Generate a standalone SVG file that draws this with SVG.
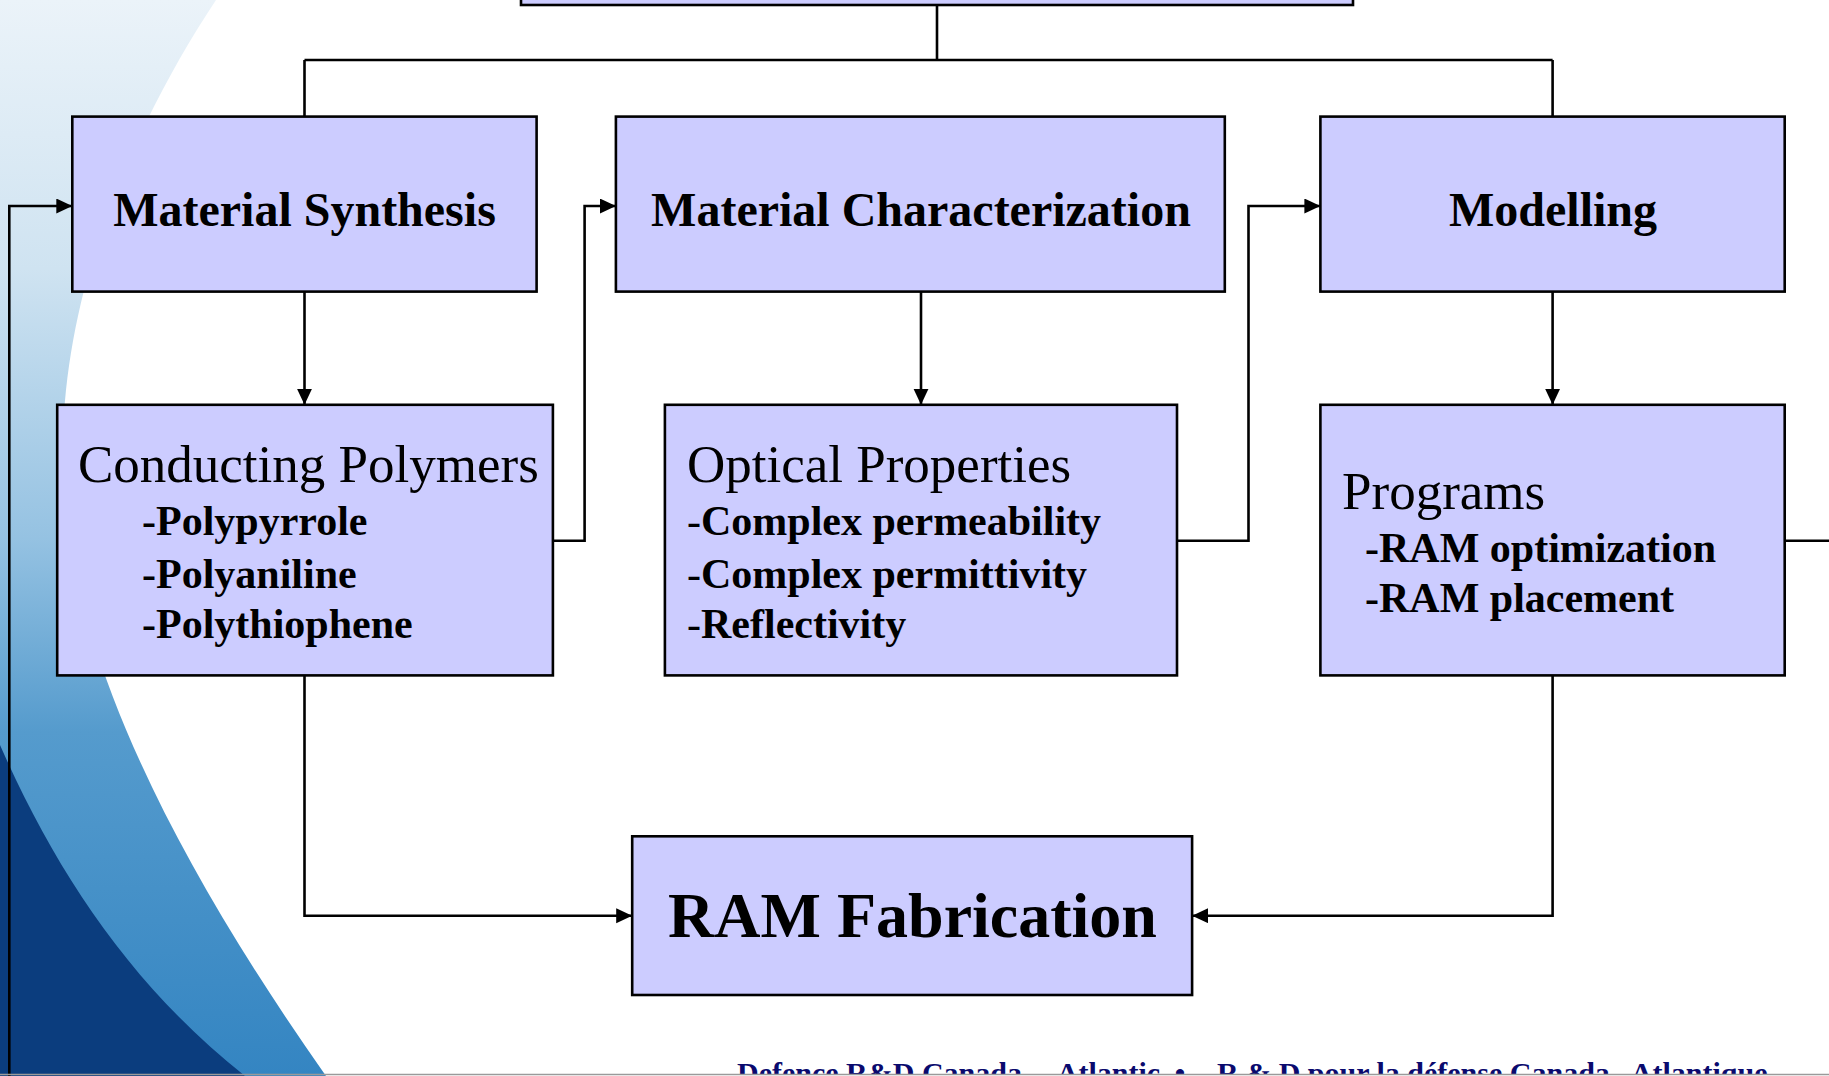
<svg xmlns="http://www.w3.org/2000/svg" width="1829" height="1076" viewBox="0 0 1829 1076">
<style>
.box{fill:#CCCCFF;stroke:#000;stroke-width:2.6}
.ttl{font-family:"Liberation Serif","Times New Roman",serif;font-weight:bold;font-size:48px;fill:#000;text-anchor:middle}
.hd{font-family:"Liberation Serif","Times New Roman",serif;font-size:53px;fill:#000}
.it{font-family:"Liberation Serif","Times New Roman",serif;font-weight:bold;font-size:42px;fill:#000}
.cn{fill:none;stroke:#000;stroke-width:2.6}
.ft{font-family:"Liberation Serif","Times New Roman",serif;font-weight:bold;font-size:30px;fill:#0a0a6e}
</style>
<defs>
<marker id="ah" markerUnits="userSpaceOnUse" markerWidth="18" markerHeight="16" refX="16" refY="7.5" orient="auto">
<path d="M0,0 L16,7.5 L0,15 Z" fill="#000"/>
</marker>
<linearGradient id="lg" x1="0" y1="0" x2="0" y2="1">
<stop offset="0" stop-color="#ebf3f9"/>
<stop offset="0.25" stop-color="#cfe3f1"/>
<stop offset="0.5" stop-color="#95c2e2"/>
<stop offset="0.68" stop-color="#559bcd"/>
<stop offset="1" stop-color="#3485c2"/>
</linearGradient>
<clipPath id="fc"><rect x="0" y="0" width="1829" height="1074"/></clipPath>
</defs>
<rect x="0" y="0" width="1829" height="1076" fill="#fff"/>
<g id="background">
<path d="M0,0 L216,0 C130,130 58,300 63,470 C68,640 160,840 326,1076 L0,1076 Z" fill="url(#lg)"/>
<path d="M0,745 C55,870 130,985 245,1076 L0,1076 Z" fill="#0b3d7e"/>
</g>
<g id="connectors">
<path class="cn" d="M937,5 V60 M304.5,60 H1552.6 M304.5,60 V116.6 M1552.6,60 V116.6"/>
<path class="cn" d="M304.5,291.6 V404.8" marker-end="url(#ah)"/>
<path class="cn" d="M921,291.6 V404.8" marker-end="url(#ah)"/>
<path class="cn" d="M1552.6,291.6 V404.8" marker-end="url(#ah)"/>
<path class="cn" d="M552.9,540.7 H584.6 V206 H615.9" marker-end="url(#ah)"/>
<path class="cn" d="M1177,540.7 H1248.5 V206 H1320.4" marker-end="url(#ah)"/>
<path class="cn" d="M1784.7,540.7 H1829"/>
<path class="cn" d="M9.3,1076 V206 H72.3" marker-end="url(#ah)"/>
<path class="cn" d="M304.5,675.4 V915.7 H632.2" marker-end="url(#ah)"/>
<path class="cn" d="M1552.6,675.4 V915.7 H1192.1" marker-end="url(#ah)"/>
</g>
<g id="top-box">
<rect class="box" x="521" y="-60" width="832" height="65"/>
</g>
<g id="material-synthesis">
<rect class="box" x="72.3" y="116.6" width="464.3" height="175"/>
<text class="ttl" x="304.5" y="226">Material Synthesis</text>
</g>
<g id="material-characterization">
<rect class="box" x="615.9" y="116.6" width="608.9" height="175"/>
<text class="ttl" x="921" y="226">Material Characterization</text>
</g>
<g id="modelling">
<rect class="box" x="1320.4" y="116.6" width="464.3" height="175"/>
<text class="ttl" x="1553" y="226">Modelling</text>
</g>
<g id="conducting-polymers">
<rect class="box" x="57.2" y="404.8" width="495.7" height="270.6"/>
<text class="hd" x="78" y="482">Conducting Polymers</text>
<text class="it" x="142" y="535">-Polypyrrole</text>
<text class="it" x="142" y="588">-Polyaniline</text>
<text class="it" x="142" y="638">-Polythiophene</text>
</g>
<g id="optical-properties">
<rect class="box" x="664.9" y="404.8" width="512.1" height="270.6"/>
<text class="hd" x="687" y="482">Optical Properties</text>
<text class="it" x="687" y="535"><tspan font-weight="normal">-</tspan>Complex permeability</text>
<text class="it" x="687" y="588"><tspan font-weight="normal">-</tspan>Complex permittivity</text>
<text class="it" x="687" y="638"><tspan font-weight="normal">-</tspan>Reflectivity</text>
</g>
<g id="programs">
<rect class="box" x="1320.4" y="404.8" width="464.3" height="270.6"/>
<text class="hd" x="1342" y="509">Programs</text>
<text class="it" x="1365" y="562">-RAM optimization</text>
<text class="it" x="1365" y="612">-RAM placement</text>
</g>
<g id="ram-fabrication">
<rect class="box" x="632.2" y="836.3" width="559.9" height="158.7"/>
<text class="ttl" x="912.5" y="937" style="font-size:64px">RAM Fabrication</text>
</g>
<g id="footer">
<g clip-path="url(#fc)">
<text class="ft" x="737" y="1083">Defence R&amp;D Canada</text>
<text class="ft" x="1036" y="1083">– Atlantic</text>
<text class="ft" x="1180" y="1083" text-anchor="middle">•</text>
<text class="ft" x="1217" y="1083">R &amp; D pour la défense Canada</text>
<text class="ft" x="1610" y="1083">– Atlantique</text>
</g>
<line x1="0" y1="1074.5" x2="1829" y2="1074.5" stroke="#9a9a9a" stroke-width="1.5"/>
</g>
</svg>
